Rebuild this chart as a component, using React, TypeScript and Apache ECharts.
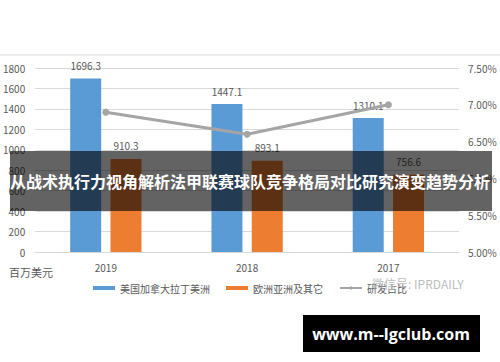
import React, { useEffect, useRef } from "react";
import * as echarts from "echarts";

const categories = ["2019", "2018", "2017"];
const americas = [1696.3, 1447.1, 1310.1];
const europeAsia = [910.3, 893.1, 756.6];
const rdRatio = [6.9, 6.6, 7.0];
const leftTicks = { min: 0, max: 1800, interval: 200 };
const rightTicks = { min: 5, max: 7.5, interval: 0.5 };
const seriesNames = ["美国加拿大拉丁美洲", "欧洲亚洲及其它", "研发占比"];
const unitLabel = "百万美元";
const bannerText = "从战术执行力视角解析法甲联赛球队竞争格局对比研究演变趋势分析";
const siteText = "www.m--lgclub.com";
const wechatText = "微信号: IPRDAILY";

export default function App() {
  const ref = useRef<HTMLDivElement>(null);
  useEffect(() => {
    document.body.style.margin = "0";
    if (!ref.current) return;
    const chart = echarts.init(ref.current, null, { renderer: "svg" });
    const font = "'Noto Sans CJK SC', 'Noto Sans', sans-serif";
    const txt = "#595959";
    chart.setOption({
      animation: false,
      textStyle: { fontFamily: font },
      grid: { left: 35, right: 41, top: 68, bottom: 110 },
      legend: {
        bottom: 64,
        left: "center",
        itemWidth: 22,
        itemHeight: 4,
        itemGap: 16,
        textStyle: { color: txt, fontSize: 10, fontFamily: font },
        data: [
          { name: seriesNames[0], icon: "rect" },
          { name: seriesNames[1], icon: "rect" },
          { name: seriesNames[2] },
        ],
      },
      xAxis: {
        type: "category",
        data: categories,
        axisLine: { lineStyle: { color: "#d9d9d9" } },
        axisTick: { show: false },
        axisLabel: { color: txt, fontSize: 10, margin: 10 },
      },
      yAxis: [
        {
          type: "value",
          ...leftTicks,
          axisLine: { show: false },
          axisTick: { show: false },
          axisLabel: { color: txt, fontSize: 10, margin: 10, formatter: (v: number) => String(v) },
          splitLine: { lineStyle: { color: "#d9d9d9" } },
        },
        {
          type: "value",
          ...rightTicks,
          position: "right",
          axisLine: { show: false },
          axisTick: { show: false },
          axisLabel: {
            color: txt,
            fontSize: 10,
            margin: 9,
            formatter: (v: number) => v.toFixed(2) + "%",
          },
          splitLine: { show: false },
        },
      ],
      series: [
        {
          name: seriesNames[0],
          type: "bar",
          data: americas,
          barWidth: 31,
          barGap: "30%",
          itemStyle: { color: "#5b9bd5" },
          label: { show: true, position: "top", color: txt, fontSize: 10, distance: 8 },
        },
        {
          name: seriesNames[1],
          type: "bar",
          data: europeAsia,
          barWidth: 31,
          itemStyle: { color: "#ed7d31" },
          label: { show: true, position: "top", color: txt, fontSize: 10, distance: 8 },
        },
        {
          name: seriesNames[2],
          type: "line",
          yAxisIndex: 1,
          data: rdRatio,
          symbol: "circle",
          symbolSize: 7,
          lineStyle: { color: "#a5a5a5", width: 3 },
          itemStyle: { color: "#a5a5a5" },
          z: 5,
        },
      ],
      graphic: [
        {
          type: "line",
          shape: { x1: 0, y1: 55, x2: 500, y2: 55 },
          style: { stroke: "#d9d9d9", lineWidth: 1 },
          silent: true,
        },
        {
          type: "text",
          left: 9,
          top: 266,
          style: { text: unitLabel, fill: txt, fontSize: 11, fontFamily: font },
        },
        {
          type: "text",
          left: 372,
          top: 277,
          z: 50,
          style: { text: wechatText, fill: "#b4b4b4", fontSize: 12, fontFamily: font, opacity: 0.9 },
        },
        {
          type: "rect",
          shape: { x: 10, y: 151, width: 482, height: 60 },
          style: { fill: "rgba(0,0,0,0.61)" },
          z: 100,
        },
        {
          type: "text",
          x: 250,
          y: 181,
          z: 101,
          style: {
            text: bannerText,
            fill: "#ffffff",
            fontSize: 16,
            fontWeight: "bold",
            fontFamily: font,
            align: "center",
            verticalAlign: "middle",
          },
        },
        {
          type: "rect",
          shape: { x: 303, y: 315, width: 177, height: 37 },
          style: { fill: "#000000" },
          z: 100,
        },
        {
          type: "text",
          x: 391,
          y: 334,
          z: 101,
          style: {
            text: siteText,
            fill: "#ffffff",
            fontSize: 16,
            fontWeight: "bold",
            fontFamily: "'Open Sans', 'DejaVu Sans', sans-serif",
            align: "center",
            verticalAlign: "middle",
          },
        },
      ],
    });
    return () => chart.dispose();
  }, []);
  return <div ref={ref} style={{ width: 500, height: 362 }} />;
}
